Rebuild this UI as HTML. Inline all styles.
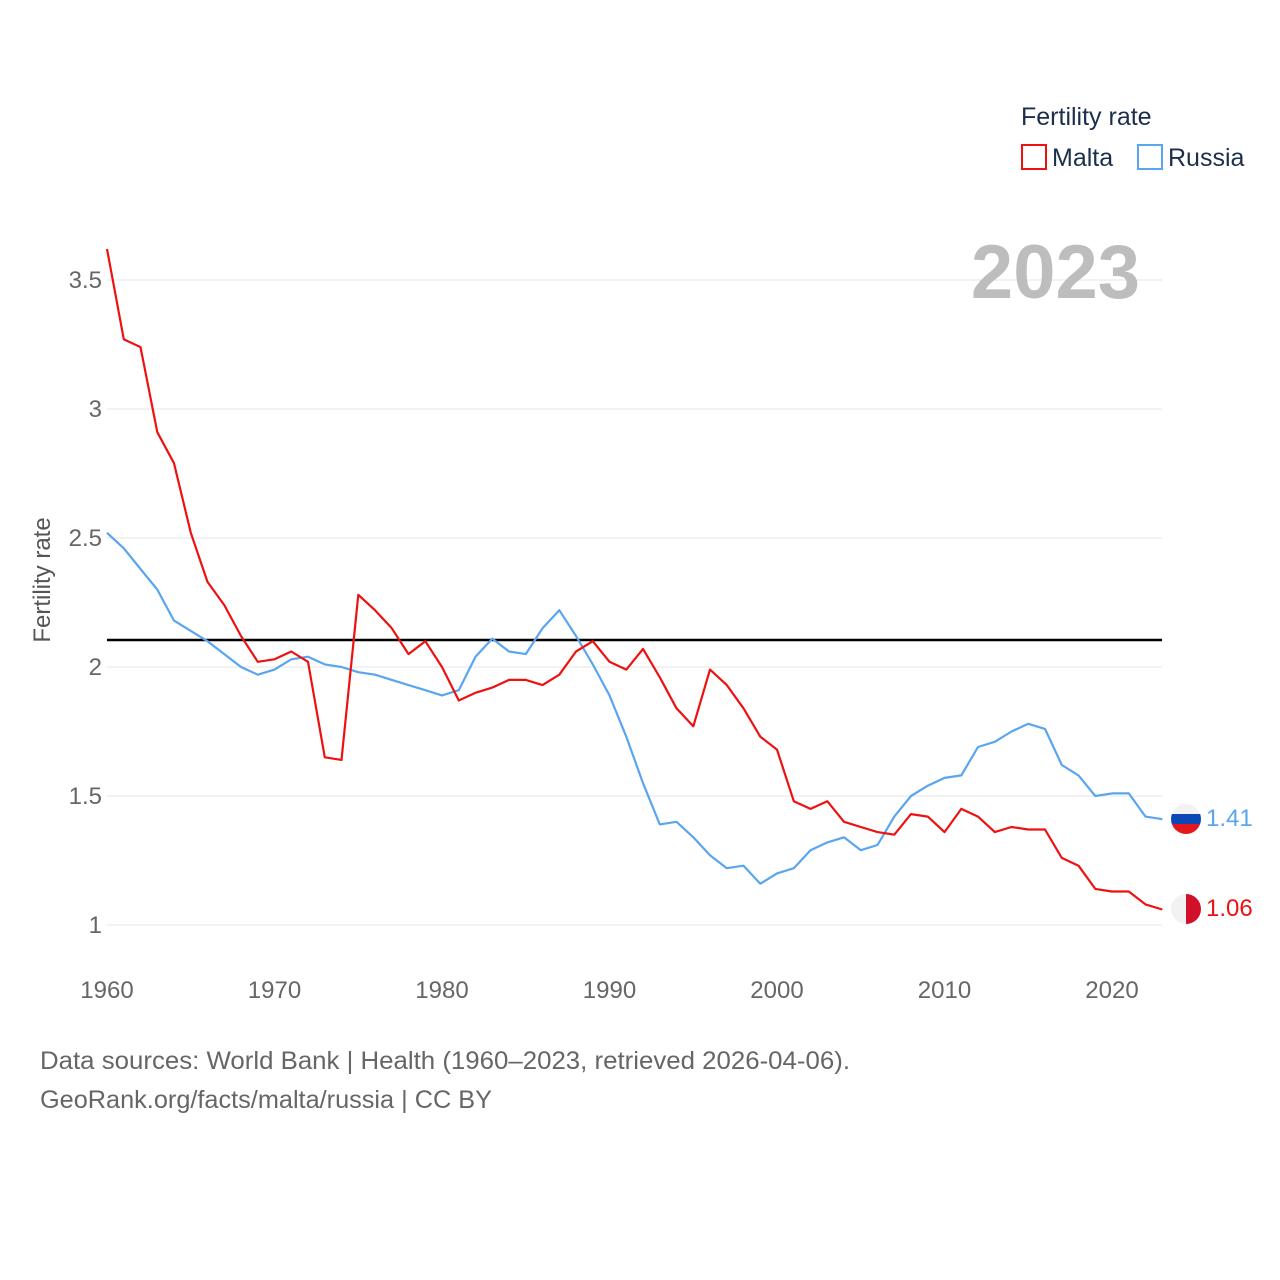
<!DOCTYPE html>
<html><head><meta charset="utf-8">
<style>
body{margin:0;background:#fff;}
svg{display:block;font-family:"Liberation Sans",sans-serif;}
</style></head>
<body>
<svg id="chart" width="1280" height="1280" viewBox="0 0 1280 1280">
  <g id="grid"></g>
  <g id="yticks"></g>
  <g id="xticks"></g>
  <text x="1140" y="298" text-anchor="end" font-size="76" font-weight="bold" fill="#bdbdbd">2023</text>
  <text transform="translate(50,580) rotate(-90)" text-anchor="middle" font-size="24" fill="#555">Fertility rate</text>
  <line x1="107" x2="1162" y1="640" y2="640" stroke="#000" stroke-width="2.5"/>
  <g id="series"></g>
  <g>
    <text x="1021" y="125" font-size="25" fill="#1b2e4b">Fertility rate</text>
    <rect x="1022" y="145" width="24" height="24" fill="none" stroke="#ee1111" stroke-width="2"/>
    <text x="1052" y="166" font-size="25" fill="#1b2e4b">Malta</text>
    <rect x="1138" y="145" width="24" height="24" fill="none" stroke="#5aa5ef" stroke-width="2"/>
    <text x="1168" y="166" font-size="25" fill="#1b2e4b">Russia</text>
  </g>
  <g>
    <clipPath id="cr"><circle cx="1186" cy="819" r="15"/></clipPath>
    <g clip-path="url(#cr)"><rect x="1171" y="804" width="30" height="10" fill="#f2f2f2"/><rect x="1171" y="814" width="30" height="10" fill="#0c47b7"/><rect x="1171" y="824" width="30" height="10" fill="#e4181c"/></g>
  </g>
  <g>
    <clipPath id="cm"><circle cx="1186" cy="909" r="15"/></clipPath>
    <g clip-path="url(#cm)"><rect x="1171" y="894" width="15" height="30" fill="#f2f2f2"/><rect x="1186" y="894" width="15" height="30" fill="#d2102a"/></g>
  </g>
  <text id="lblR" x="1206" y="826" font-size="24" fill="#5aa5ef"></text>
  <text id="lblM" x="1206" y="916" font-size="24" fill="#ee1111"></text>
  <text x="40" y="1069" font-size="25" fill="#666" textLength="810" lengthAdjust="spacingAndGlyphs">Data sources: World Bank | Health (1960–2023, retrieved 2026-04-06).</text>
  <text x="40" y="1108" font-size="25" fill="#666" textLength="452" lengthAdjust="spacingAndGlyphs">GeoRank.org/facts/malta/russia | CC BY</text>
</svg>
<script>
const years = Array.from({length:64},(_,i)=>1960+i);
const malta = [3.62,3.27,3.24,2.91,2.79,2.52,2.33,2.24,2.12,2.02,2.03,2.06,2.02,1.65,1.64,2.28,2.22,2.15,2.05,2.10,2.00,1.87,1.90,1.92,1.95,1.95,1.93,1.97,2.06,2.10,2.02,1.99,2.07,1.96,1.84,1.77,1.99,1.93,1.84,1.73,1.68,1.48,1.45,1.48,1.40,1.38,1.36,1.35,1.43,1.42,1.36,1.45,1.42,1.36,1.38,1.37,1.37,1.26,1.23,1.14,1.13,1.13,1.08,1.06];
const russia = [2.52,2.46,2.38,2.30,2.18,2.14,2.10,2.05,2.00,1.97,1.99,2.03,2.04,2.01,2.00,1.98,1.97,1.95,1.93,1.91,1.89,1.91,2.04,2.11,2.06,2.05,2.15,2.22,2.12,2.01,1.89,1.73,1.55,1.39,1.40,1.34,1.27,1.22,1.23,1.16,1.20,1.22,1.29,1.32,1.34,1.29,1.31,1.42,1.50,1.54,1.57,1.58,1.69,1.71,1.75,1.78,1.76,1.62,1.58,1.50,1.51,1.51,1.42,1.41];
const yTicks = [1,1.5,2,2.5,3,3.5];
const xTicks = [1960,1970,1980,1990,2000,2010,2020];
const X = y => 107 + (y-1960)*16.75;
const Y = v => 925 - (v-1)*258;
const NS="http://www.w3.org/2000/svg";
const mk=(t,a,p)=>{const e=document.createElementNS(NS,t);for(const k in a)e.setAttribute(k,a[k]);p.appendChild(e);return e;};
const grid=document.getElementById('grid'), yt=document.getElementById('yticks'), xt=document.getElementById('xticks'), ser=document.getElementById('series');
yTicks.forEach(v=>{
  const l=mk('line',{x1:107,x2:1162,y1:Y(v),y2:Y(v),stroke:'#e6e6e6','stroke-width':1},grid);
  
  
  const t=mk('text',{x:102,y:Y(v)+8,'text-anchor':'end','font-size':24,fill:'#666'},yt);
  t.textContent=String(v);
  
  
});
xTicks.forEach(v=>{
  const t=mk('text',{x:X(v),y:998,'text-anchor':'middle','font-size':24,fill:'#666'},xt);
  t.textContent=String(v);
  
  
});
function line(data,color,name){
  const d=data.map((v,i)=>(i?'L':'M')+X(years[i]).toFixed(1)+','+Y(v).toFixed(1)).join('');
  const p=mk('path',{d:d,fill:'none',stroke:color,'stroke-width':2.2,'stroke-linejoin':'round'},ser);
  
  
}
line(russia,'#5aa5ef','russia-line');
line(malta,'#ee1111','malta-line');
document.getElementById('lblR').textContent=russia[russia.length-1].toFixed(2);
document.getElementById('lblM').textContent=malta[malta.length-1].toFixed(2);
</script>
</body></html>
